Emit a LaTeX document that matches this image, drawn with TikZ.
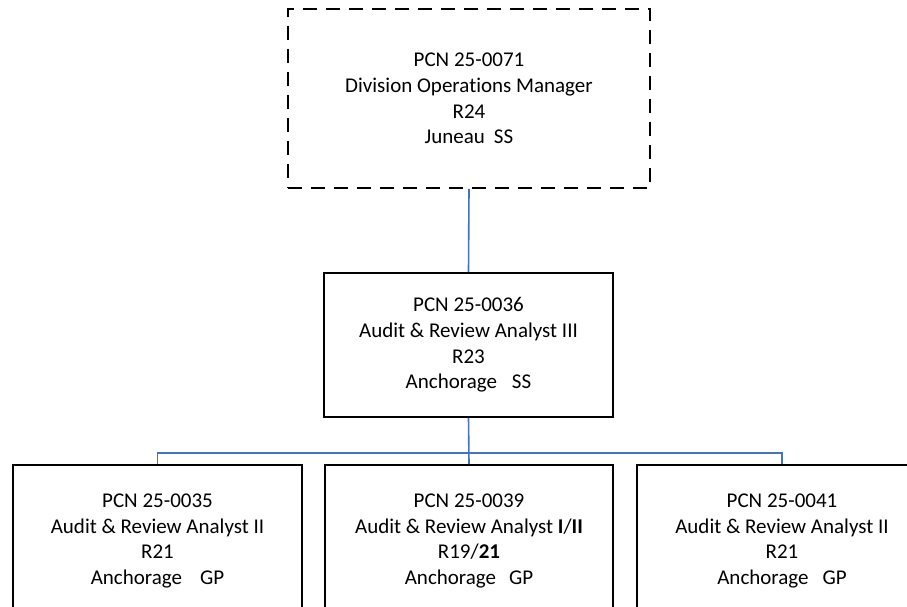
\documentclass[tikz,border=0pt]{standalone}
\usepackage{fontspec}
\setmainfont[Ligatures=NoCommon]{Carlito}
\definecolor{linkblue}{HTML}{4472C4}
\begin{document}
\begin{tikzpicture}[x=1pt,y=1pt,
  posbox/.style={draw=black, line width=1.8pt, align=center, inner sep=0pt,
    font=\fontsize{21pt}{25.6pt}\selectfont},
  dashbox/.style={posbox, dash pattern=on 14pt off 9pt},
  link/.style={draw=linkblue, line width=1.6pt}]
\useasboundingbox (0,0) rectangle (907,607);
\clip (0,0) rectangle (907,607);
\fill[white] (0,0) rectangle (907,607);
\node[dashbox, minimum width=362pt, minimum height=179pt] (top) at (469,508.5)
  {PCN 25-0071\\Division Operations Manager\\R24\\Juneau\hspace{9pt}SS};
\node[posbox, minimum width=289pt, minimum height=144pt] (mid) at (468.5,262)
  {PCN 25-0036\\Audit \& Review Analyst III\\R23\\Anchorage\hspace{15pt}SS};
\node[posbox, minimum width=289pt, minimum height=152pt] (b1) at (157.5,66)
  {PCN 25-0035\\Audit \& Review Analyst II\\R21\\Anchorage\hspace{18pt}GP};
\node[posbox, minimum width=288pt, minimum height=152pt] (b2) at (469,66)
  {PCN 25-0039\\Audit \& Review Analyst \textbf{I}/\textbf{II}\\R19/\textbf{21}\\Anchorage\hspace{13pt}GP};
\node[posbox, minimum width=290pt, minimum height=152pt] (b3) at (782,66)
  {PCN 25-0041\\Audit \& Review Analyst II\\R21\\Anchorage\hspace{14pt}GP};
\coordinate (bus) at (469,154);
\draw[link] (top.south) -- (mid.north);
\draw[link] (mid.south) -- (b2.north);
\draw[link] (bus) -| (b1.north);
\draw[link] (bus) -| (b3.north);
\end{tikzpicture}
\end{document}
